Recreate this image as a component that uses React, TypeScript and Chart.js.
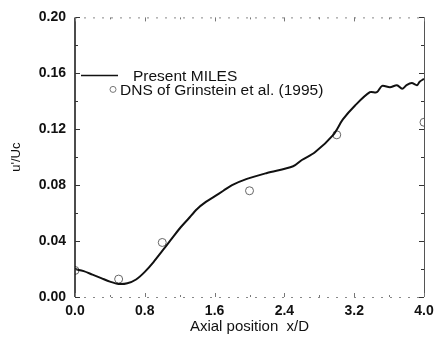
import React, { useEffect, useRef } from "react";
import { Chart, registerables } from "chart.js";

Chart.register(...registerables);

const milesX = [0, 0.1, 0.2, 0.3, 0.4, 0.5, 0.6, 0.7, 0.8, 0.9, 1.0, 1.1, 1.2, 1.3, 1.4, 1.5, 1.6, 1.7, 1.8, 1.97, 2.2, 2.5, 2.6, 2.75, 2.96, 3.07, 3.21, 3.38, 3.46, 3.52, 3.61, 3.69, 3.75, 3.8, 3.86, 3.92, 3.95, 4.0];
const milesY = [0.02, 0.0185, 0.016, 0.0135, 0.011, 0.0093, 0.0098, 0.0125, 0.018, 0.025, 0.033, 0.041, 0.049, 0.056, 0.063, 0.068, 0.072, 0.076, 0.08, 0.0845, 0.0887, 0.0935, 0.098, 0.1035, 0.116, 0.127, 0.137, 0.1465, 0.1465, 0.151, 0.15, 0.1515, 0.149, 0.1515, 0.153, 0.1515, 0.154, 0.156];
const dnsX = [0, 0.5, 1.0, 2.0, 3.0, 4.0];
const dnsY = [0.019, 0.0128, 0.039, 0.076, 0.116, 0.125];
const seriesLabels = ["Present MILES", "DNS of Grinstein et al. (1995)"];
const xTitle = "Axial position  x/D";
const yTitle = "u'/Uc";

const FONT = "'Liberation Sans', Arial, sans-serif";

const framePlugin = {
  id: "frame",
  afterDatasetsDraw(chart: any) {
    const { ctx, chartArea: a, scales } = chart;
    ctx.save();
    ctx.strokeStyle = "#888";
    ctx.lineWidth = 1;
    ctx.setLineDash([2, 7]);
    ctx.beginPath();
    ctx.moveTo(a.left, a.top + 0.5);
    ctx.lineTo(a.right, a.top + 0.5);
    ctx.moveTo(a.left, a.bottom + 0.5);
    ctx.lineTo(a.right, a.bottom + 0.5);
    ctx.stroke();
    ctx.setLineDash([]);
    ctx.strokeStyle = "#555";
    ctx.beginPath();
    ctx.moveTo(a.right + 0.5, a.top);
    ctx.lineTo(a.right + 0.5, a.bottom);
    ctx.stroke();
    ctx.strokeStyle = "#111";
    ctx.lineWidth = 1.5;
    ctx.beginPath();
    ctx.moveTo(a.left, a.top);
    ctx.lineTo(a.left, a.bottom);
    ctx.stroke();
    ctx.lineWidth = 1;
    ctx.strokeStyle = "#333";
    scales.y.ticks.forEach((t: any, i: number) => {
      const py = Math.round(scales.y.getPixelForValue(t.value)) + 0.5;
      const len = i % 2 === 0 ? 5 : 3;
      ctx.beginPath();
      ctx.moveTo(a.left, py);
      ctx.lineTo(a.left + len, py);
      ctx.moveTo(a.right, py);
      ctx.lineTo(a.right - len, py);
      ctx.stroke();
    });
    scales.x.ticks.forEach((t: any, i: number) => {
      const px = Math.round(scales.x.getPixelForValue(t.value)) + 0.5;
      const len = i % 2 === 0 ? 4 : 2;
      ctx.strokeStyle = "#777";
      ctx.beginPath();
      ctx.moveTo(px, a.bottom);
      ctx.lineTo(px, a.bottom - len);
      ctx.moveTo(px, a.top);
      ctx.lineTo(px, a.top + len);
      ctx.stroke();
    });
    // legend
    const lx = a.left + 6;
    const ly = a.top + 58;
    ctx.strokeStyle = "#111";
    ctx.lineWidth = 1.5;
    ctx.beginPath();
    ctx.moveTo(lx, ly);
    ctx.lineTo(lx + 37, ly);
    ctx.stroke();
    ctx.fillStyle = "#111";
    ctx.font = "15.5px " + FONT;
    ctx.textBaseline = "middle";
    ctx.fillText(seriesLabels[0], lx + 52, ly + 1);
    ctx.strokeStyle = "#777";
    ctx.lineWidth = 1;
    ctx.beginPath();
    ctx.arc(lx + 32, ly + 14, 3, 0, Math.PI * 2);
    ctx.stroke();
    ctx.fillText(seriesLabels[1], lx + 39, ly + 15);
    ctx.restore();
  },
};

export default function App() {
  const ref = useRef<HTMLCanvasElement>(null);
  useEffect(() => {
    const chart = new Chart(ref.current!, {
      type: "line",
      data: {
        datasets: [
          {
            label: seriesLabels[0],
            data: milesX.map((x, i) => ({ x, y: milesY[i] })),
            borderColor: "#111",
            borderWidth: 2,
            pointRadius: 0,
            tension: 0.3,
            fill: false,
          },
          {
            label: seriesLabels[1],
            data: dnsX.map((x, i) => ({ x, y: dnsY[i] })),
            showLine: false,
            pointRadius: 4,
            pointBorderColor: "#666",
            pointBackgroundColor: "rgba(255,255,255,0)",
            pointBorderWidth: 1,
          },
        ],
      },
      options: {
        animation: false,
        responsive: false,
        maintainAspectRatio: false,
        layout: { padding: { top: 13, right: 17, left: 0, bottom: 0 } },
        plugins: { legend: { display: false }, tooltip: { enabled: false } },
        scales: {
          x: {
            type: "linear",
            min: 0,
            max: 4,
            border: { display: false },
            grid: { display: false, drawTicks: false },
            ticks: {
              stepSize: 0.4,
              autoSkip: false,
              maxRotation: 0,
              padding: 6,
              color: "#111",
              font: { family: FONT, size: 14, weight: "bold" },
              callback: (v: any, i: number) => (i % 2 === 0 ? Number(v).toFixed(1) : ""),
            },
            title: {
              display: true,
              text: xTitle,
              color: "#111",
              padding: { top: 0, bottom: 6 },
              font: { family: FONT, size: 15 },
            },
            afterFit: (s: any) => {
              s.height = 45;
            },
          },
          y: {
            type: "linear",
            min: 0,
            max: 0.2,
            border: { display: false },
            grid: { display: false, drawTicks: false },
            ticks: {
              stepSize: 0.02,
              autoSkip: false,
              padding: 9,
              color: "#111",
              font: { family: FONT, size: 14, weight: "bold" },
              callback: (v: any, i: number) => (i % 2 === 0 ? Number(v).toFixed(2) : ""),
            },
            title: {
              display: true,
              text: yTitle,
              color: "#111",
              padding: { top: 9, bottom: 4 },
              font: { family: FONT, size: 13 },
            },
            afterFit: (s: any) => {
              s.width = 75;
            },
          },
        },
      },
      plugins: [framePlugin],
    });
    return () => chart.destroy();
  }, []);
  return (
    <div style={{ position: "fixed", left: 0, top: 0, width: 441, height: 342, background: "#fff" }}>
      <canvas ref={ref} width={441} height={342} />
    </div>
  );
}
